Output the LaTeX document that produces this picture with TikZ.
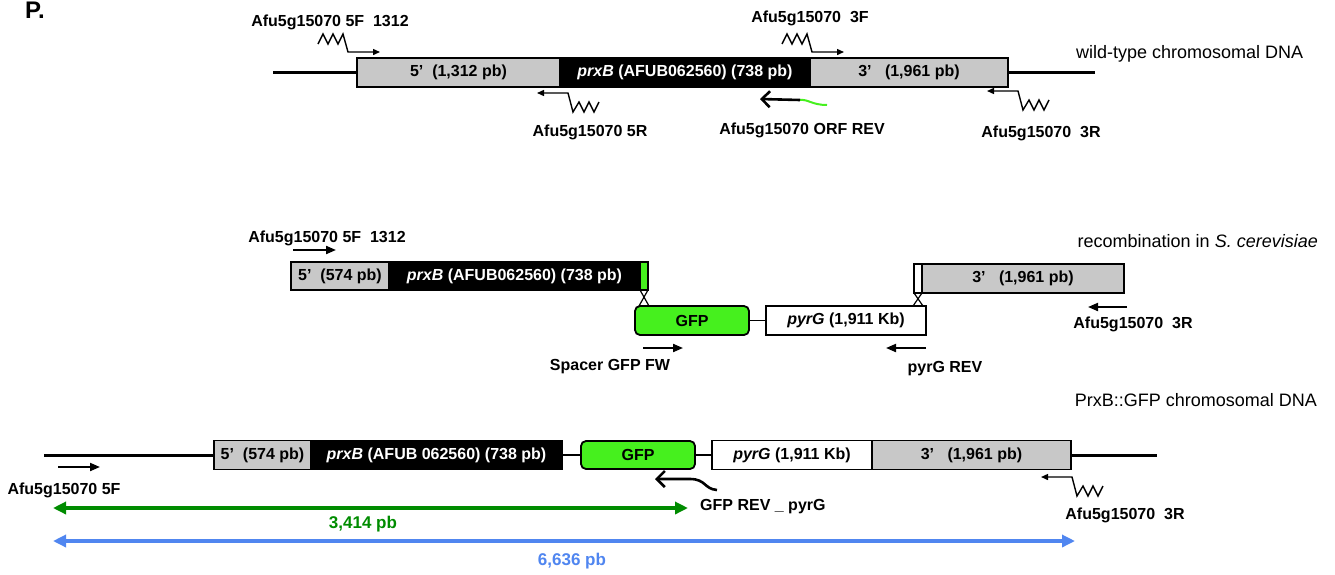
\documentclass[tikz,border=0pt]{standalone}
\usepackage{fontspec}
\setmainfont{Liberation Sans}
\usetikzlibrary{positioning, arrows.meta}

\definecolor{boxgray}{RGB}{200,200,200}
\definecolor{gfpgreen}{RGB}{70,240,30}
\definecolor{ampgreen}{RGB}{0,140,0}
\definecolor{ampblue}{RGB}{80,134,240}

\begin{document}
\begin{tikzpicture}[
  x=1pt, y=-1pt,
  >=Latex,
  seg/.style={draw, line width=1.8pt, outer sep=0pt, inner sep=0pt, minimum height=29pt, font=\fontsize{16}{19}\selectfont\bfseries, align=center},
  grayseg/.style={seg, fill=boxgray},
  blackseg/.style={seg, fill=black, text=white},
  whiteseg/.style={seg, fill=white},
  gfpbox/.style={seg, fill=gfpgreen, rounded corners=5pt, minimum width=114pt},
  tag/.style={draw, line width=1.5pt, outer sep=0pt, inner sep=0pt, minimum width=8pt, minimum height=28pt},
  dna/.style={line width=3pt},
  link/.style={line width=1.4pt},
  lbl/.style={inner sep=0pt, font=\fontsize{16}{19}\selectfont\bfseries},
  caption/.style={inner sep=0pt, font=\fontsize{18}{21}\selectfont},
  primer/.style={line width=2pt, -{Triangle[length=10pt, width=8pt]}},
  barb/.style={line width=2.6pt, -{Straight Barb[length=8pt, width=16pt]}},
  amplicon/.style={line width=3.5pt, {Triangle[length=13pt, width=12pt]}-{Triangle[length=13pt, width=12pt]}},
  fwdprimer/.pic={\draw[line width=1.4pt, -{Triangle[length=7pt, width=6pt]}] (-30,-8) -- (-25,-18) -- (-20,-8) -- (-15,-18) -- (-10,-8) -- (-5,-18) -- (0,0) -- (32,0);},
  revprimer/.pic={\draw[line width=1.4pt, -{Triangle[length=7pt, width=6pt]}] (31,9) -- (26,19) -- (21,9) -- (16,19) -- (11,9) -- (5,19) -- (0,0) -- (-31,0);}
]
\useasboundingbox (0,0) rectangle (1335,574);

\node[inner sep=0pt, font=\fontsize{24}{27}\selectfont\bfseries, anchor=base west] (panel) at (25,18) {P.};

% Row 1 (wild-type chromosomal DNA)
\node[grayseg, minimum width=203pt, anchor=west] (wtfive) at (357,72.5) {5’\ \ (1,312 pb)};
\node[blackseg, minimum width=250pt, right=0pt of wtfive] (wtprx) {\textit{prxB} (AFUB062560) (738 pb)};
\node[grayseg, minimum width=198pt, right=0pt of wtprx] (wtthree) {3’\ \ \ (1,961 pb)};
\coordinate (wtleft) at (273,72.5);
\coordinate (wtright) at (1095,72.5);
\draw[dna] (wtleft) -- (wtfive);
\draw[dna] (wtthree) -- (wtright);
\node[caption, anchor=base west] (wtcap) at (1076,58) {wild-type chromosomal DNA};

\pic at (348,52) {fwdprimer};
\pic at (812,52) {fwdprimer};
\pic at (568,93) {revprimer};
\pic at (1018,91) {revprimer};
\draw[line width=2pt, gfpgreen] (800,100) .. controls (808,99) and (812,105) .. (827,105);
\draw[barb] (800,100) -- (760,99);

\node[lbl, anchor=base] (wt5flab) at (330,26) {Afu5g15070 5F~\ 1312};
\node[lbl, anchor=base] (wt3flab) at (810,22) {Afu5g15070~\ 3F};
\node[lbl, anchor=base] (wt5rlab) at (590,136) {Afu5g15070 5R};
\node[lbl, anchor=base] (wtorflab) at (802,134) {Afu5g15070 ORF REV};
\node[lbl, anchor=base] (wt3rlab) at (1041,137) {Afu5g15070~\ 3R};

% Row 2 (recombination in yeast)
\node[caption, anchor=base east] (rccap) at (1318,247) {recombination in \textit{S. cerevisiae}};
\node[grayseg, minimum width=98pt, minimum height=28pt, anchor=west] (rcfive) at (291,276) {5’\ \ (574 pb)};
\node[blackseg, minimum width=251pt, minimum height=28pt, right=0pt of rcfive] (rcprx) {\textit{prxB} (AFUB062560) (738 pb)};
\node[tag, fill=gfpgreen, right=0pt of rcprx] (rctagL) {};
\node[gfpbox] (rcgfp) at (692,320.5) {GFP};
\node[whiteseg, minimum width=160pt, anchor=west] (rcpyr) at (766,320.5) {\textit{pyrG} (1,911 Kb)};
\draw[link] (rcgfp) -- (rcpyr);
\node[tag, fill=white, minimum height=29pt, anchor=west] (rctagR) at (914,278.5) {};
\node[grayseg, minimum width=202pt, right=0pt of rctagR] (rcthree) {3’\ \ \ (1,961 pb)};

% crossovers
\draw[line width=1.2pt] (rctagL.south west) -- ++(9,16) (rctagL.south east) -- ++(-9,16);
\draw[line width=1.2pt] (rctagR.south west) -- ++(9,13) (rctagR.south east) -- ++(-9,13);

\draw[primer] (293,250) -- (336,250);
\draw[primer] (643,348) -- (683,348);
\draw[primer] (926,348) -- (886,348);
\draw[primer] (1127,307) -- (1088,307);

\node[lbl, anchor=base] (rcfwlab) at (327,242) {Afu5g15070 5F~\ 1312};
\node[lbl, anchor=base] (rcrvlab) at (1133,328) {Afu5g15070~\ 3R};
\node[lbl, anchor=base] (spacerlab) at (610,370) {Spacer GFP FW};
\node[lbl, anchor=base] (pyrrevlab) at (945,372) {pyrG REV};

% Row 3 (PrxB::GFP chromosomal DNA)
\node[caption, anchor=base east] (cgcap) at (1317,406) {PrxB::GFP chromosomal DNA};
\node[grayseg, minimum width=97pt, anchor=west] (cgfive) at (214,455) {5’\ \ (574 pb)};
\node[blackseg, minimum width=251pt, right=0pt of cgfive] (cgprx) {\textit{prxB} (AFUB 062560) (738 pb)};
\node[gfpbox, minimum height=28pt] (cggfp) at (638,455) {GFP};
\node[whiteseg, minimum width=160pt, anchor=west] (cgpyr) at (712,455) {\textit{pyrG} (1,911 Kb)};
\node[grayseg, minimum width=199pt, right=0pt of cgpyr] (cgthree) {3’\ \ \ (1,961 pb)};
\coordinate (cgleft) at (44,455);
\coordinate (cgright) at (1157,455);
\draw[dna] (cgleft) -- (cgfive);
\draw[link] (cgprx) -- (cggfp);
\draw[link] (cggfp) -- (cgpyr);
\draw[dna] (cgthree) -- (cgright);

\draw[primer] (58,467) -- (100,467);
\draw[barb] (717,490) .. controls (704,489) and (706,479) .. (690,479) -- (655,479);
\pic at (1072,477) {revprimer};

\node[lbl, anchor=base] (cg5flab) at (64,494) {Afu5g15070 5F};
\node[lbl, anchor=base west] (gfprevlab) at (700,510) {GFP REV \_ pyrG};
\node[lbl, anchor=base] (cg3rlab) at (1125,519) {Afu5g15070~\ 3R};

% amplicons
\coordinate (ampgL) at (53,508);
\coordinate (ampgR) at (688,508);
\coordinate (ampbL) at (53,541);
\coordinate (ampbR) at (1075,541);
\draw[amplicon, ampgreen] (ampgL) -- (ampgR);
\draw[amplicon, ampblue] (ampbL) -- (ampbR);
\node[lbl, font=\fontsize{17}{20}\selectfont\bfseries, text=ampgreen, anchor=base] (greenlab) at (363,528) {3,414 pb};
\node[lbl, font=\fontsize{17}{20}\selectfont\bfseries, text=ampblue, anchor=base] (bluelab) at (572,565) {6,636 pb};

\end{tikzpicture}
\end{document}
